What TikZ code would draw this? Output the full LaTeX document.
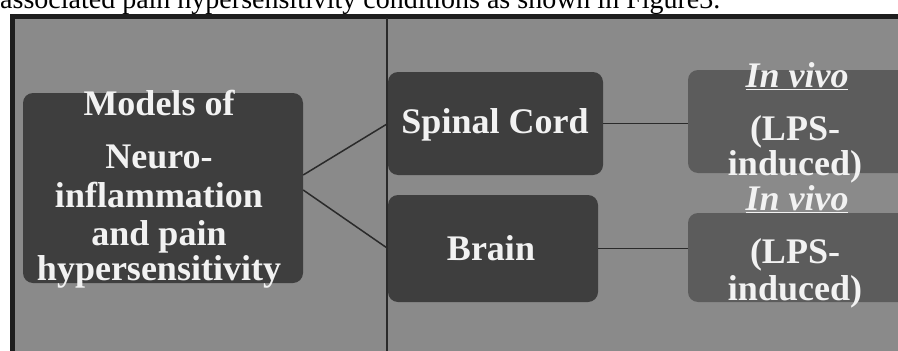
\documentclass[tikz,border=0pt]{standalone}
\usepackage{fontspec}
\setmainfont{Liberation Serif}
\definecolor{bggray}{HTML}{8A8A8A}
\definecolor{boxgray}{HTML}{3E3E3E}
\definecolor{softbox}{HTML}{5C5C5C}
\definecolor{txtwhite}{HTML}{F2F2F2}
\definecolor{linegray}{HTML}{2A2A2A}
\definecolor{framegray}{HTML}{1E1E1E}
\begin{document}
\begin{tikzpicture}[x=1pt,y=-1pt,
  darkbox/.style={fill=boxgray, draw=none, rounded corners=10pt, inner sep=0pt},
  softrbox/.style={fill=softbox, draw=none, rounded corners=10pt, inner sep=0pt},
  lbl/.style={text=txtwhite, font=\fontsize{36}{38}\selectfont\bfseries, anchor=base, inner sep=0pt},
  link/.style={draw=linegray, line width=1.5pt},
  divider/.style={draw=linegray, line width=1.5pt},
  frameline/.style={draw=framegray, line width=5pt}]
\useasboundingbox (0,0) rectangle (898,351);
\clip (0,0) rectangle (898,351);
% caption fragment (cut off at the top, as in the source)
\node[anchor=base west, inner sep=0pt, font=\fontsize{28}{28}\selectfont] (caption) at (0,8) {associated pain hypersensitivity conditions as shown in Figure3.};
% panel background and frame
\fill[bggray] (12,16) rectangle (910,360);
\draw[frameline] (12.5,16) rectangle (910,360);
\coordinate (divtop) at (387,18);
\coordinate (divbot) at (387,351);
\draw[divider] (divtop) -- (divbot);
% boxes
\node[darkbox, minimum width=280pt, minimum height=190pt] (models) at (163,188) {};
\node[darkbox, minimum width=215pt, minimum height=103pt] (spinal) at (495.5,123.5) {};
\node[darkbox, minimum width=210pt, minimum height=107pt] (brain) at (493,248.5) {};
\node[softrbox, minimum width=222pt, minimum height=103pt] (upright) at (799,121.5) {};
\node[softrbox, minimum width=222pt, minimum height=89pt] (lowright) at (799,257.5) {};
% connectors
\draw[link] ([yshift=13pt]models.east) -- (spinal.west);
\draw[link] ([yshift=-2pt]models.east) -- (brain.west);
\draw[link] (spinal.east) -- (spinal.east -| upright.west);
\draw[link] (brain.east) -- (brain.east -| lowright.west);
% texts
\node[lbl] (m1) at (159,115) {Models of};
\node[lbl] (m2) at (159,168) {Neuro-};
\node[lbl] (m3) at (159,207) {inflammation};
\node[lbl] (m4) at (159,245) {and pain};
\node[lbl] (m5) at (159,280) {hypersensitivity};
\node[lbl] (sc) at (495,133) {Spinal Cord};
\node[lbl] (br) at (491,260) {Brain};
\node[lbl] (iv1) at (797,87) {\underline{\itshape In vivo}};
\node[lbl] (lps1) at (795,140) {(LPS-};
\node[lbl] (ind1) at (795,175) {induced)};
\node[lbl] (iv2) at (797,210) {\underline{\itshape In vivo}};
\node[lbl] (lps2) at (795,263) {(LPS-};
\node[lbl] (ind2) at (795,300) {induced)};
\end{tikzpicture}
\end{document}
